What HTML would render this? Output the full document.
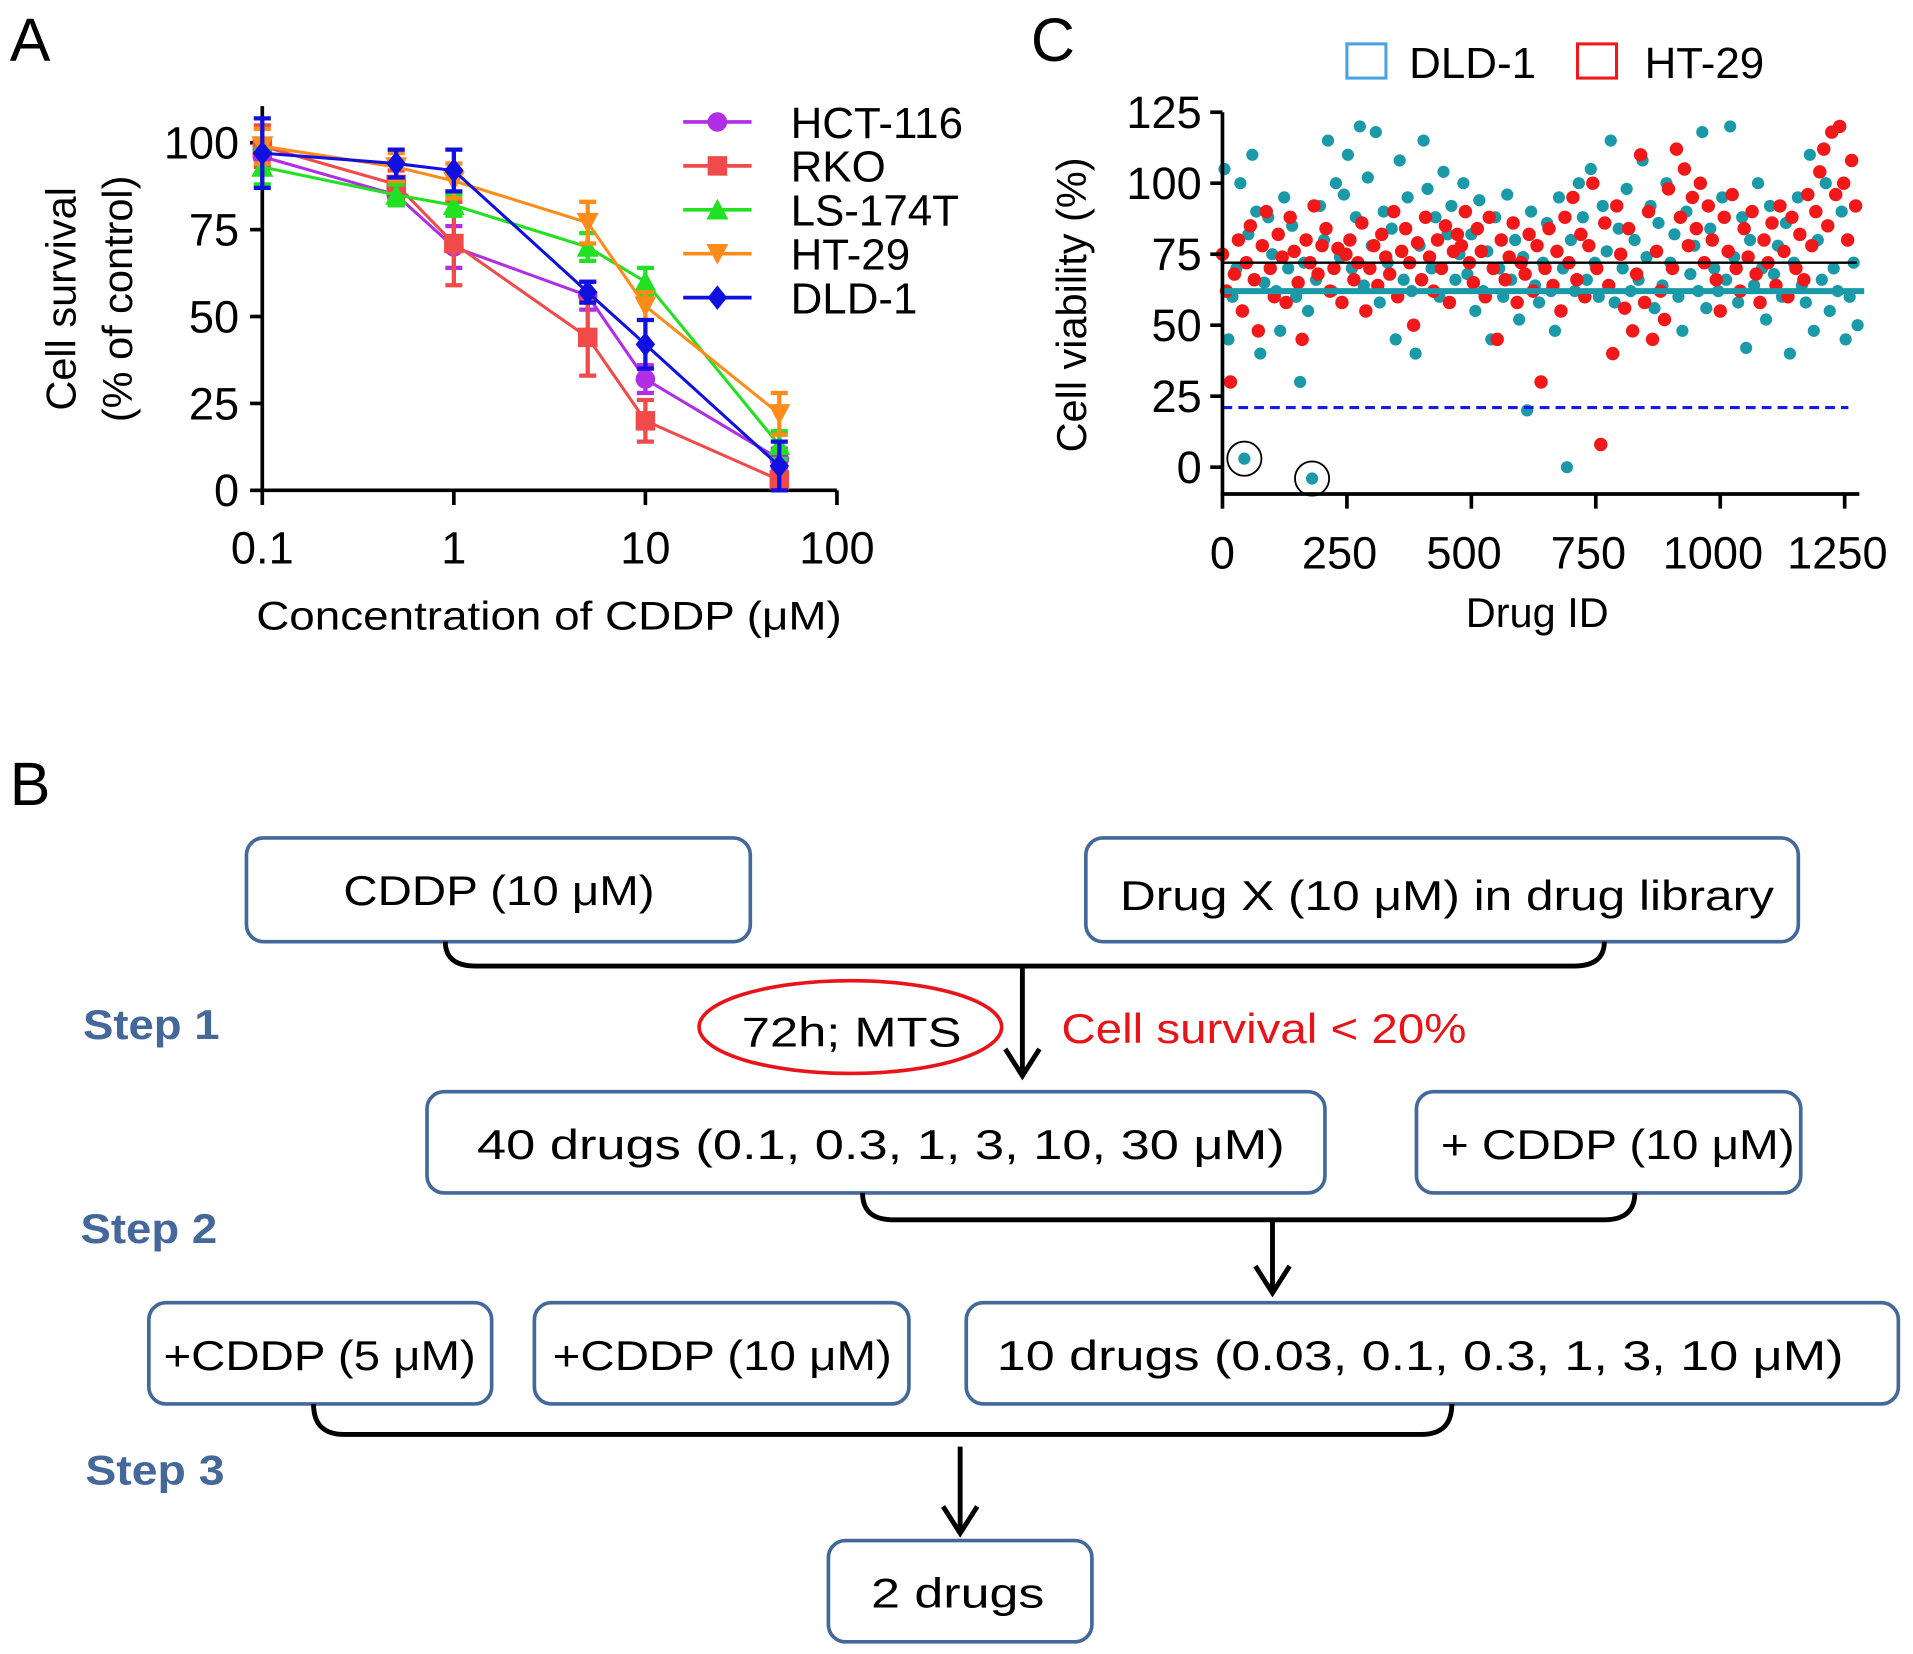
<!DOCTYPE html>
<html><head><meta charset="utf-8"><style>
html,body{margin:0;padding:0;background:#fff;}
svg{display:block;}
text{font-family:"Liberation Sans",sans-serif;}
</style></head><body>
<svg id="fig" width="1913" height="1654" viewBox="0 0 1568 1356" preserveAspectRatio="none" xmlns="http://www.w3.org/2000/svg">
<g id="panelA"></g>
<g id="panelC"></g>
<g id="panelB">
  <text x="8" y="660" font-size="50">B</text>
  <g fill="none" stroke="#44689a" stroke-width="3">
    <rect x="202" y="687" width="413" height="85" rx="14"/>
    <rect x="890" y="687" width="584" height="85" rx="14"/>
    <rect x="350" y="895" width="736" height="83" rx="14"/>
    <rect x="1161" y="895" width="315" height="83" rx="14"/>
    <rect x="122" y="1068" width="281" height="83" rx="14"/>
    <rect x="438" y="1068" width="307" height="83" rx="14"/>
    <rect x="792" y="1068" width="764" height="83" rx="14"/>
    <rect x="679" y="1263" width="216" height="83" rx="14"/>
  </g>
  <g fill="none" stroke="#000" stroke-width="4">
    <path d="M365 772 Q365 792 390 792 L1290 792 Q1315 792 1315 772"/>
    <path d="M838 792 L838 880 M824 860 L838 882 L852 860"/>
    <path d="M707 978 Q707 1000 732 1000 L1315 1000 Q1340 1000 1340 978"/>
    <path d="M1043 1000 L1043 1058 M1029 1038 L1043 1060 L1057 1038"/>
    <path d="M257 1151 Q257 1176 282 1176 L1165 1176 Q1190 1176 1190 1151"/>
    <path d="M787 1186 L787 1255 M773 1235 L787 1257 L801 1235"/>
  </g>
  <ellipse cx="697" cy="842" rx="124" ry="38" fill="none" stroke="#e8141a" stroke-width="3"/>
  <g font-size="34" fill="#000" text-anchor="middle">
    <text x="409" y="742" textLength="255" lengthAdjust="spacingAndGlyphs">CDDP (10 μM)</text>
    <text x="1186" y="746" textLength="536" lengthAdjust="spacingAndGlyphs">Drug X (10 μM) in drug library</text>
    <text x="698" y="858" textLength="180" lengthAdjust="spacingAndGlyphs">72h;  MTS</text>
    <text x="722" y="950" textLength="662" lengthAdjust="spacingAndGlyphs">40 drugs (0.1,  0.3, 1,  3,  10,  30 μM)</text>
    <text x="1326" y="950" textLength="290" lengthAdjust="spacingAndGlyphs">+ CDDP (10 μM)</text>
    <text x="262" y="1123" textLength="256" lengthAdjust="spacingAndGlyphs">+CDDP (5 μM)</text>
    <text x="592" y="1123" textLength="278" lengthAdjust="spacingAndGlyphs">+CDDP (10 μM)</text>
    <text x="1164" y="1123" textLength="694" lengthAdjust="spacingAndGlyphs">10 drugs (0.03,  0.1,  0.3, 1,  3,  10 μM)</text>
    <text x="785" y="1318" textLength="142" lengthAdjust="spacingAndGlyphs">2  drugs</text>
  </g>
  <text x="870" y="855" font-size="34" fill="#e8141a" textLength="332" lengthAdjust="spacingAndGlyphs">Cell survival &lt; 20%</text>
  <g font-size="34" font-weight="bold" fill="#44689a">
    <text x="68" y="852" textLength="112" lengthAdjust="spacingAndGlyphs">Step 1</text>
    <text x="66" y="1019" textLength="112" lengthAdjust="spacingAndGlyphs">Step 2</text>
    <text x="70" y="1217" textLength="114" lengthAdjust="spacingAndGlyphs">Step 3</text>
  </g>
</g>
</svg>
<script>
// ---------- Panel A data ----------
const concentrations = [0.1, 0.5, 1, 5, 10, 50];
const seriesNames = ["HCT-116", "RKO", "LS-174T", "HT-29", "DLD-1"];
const hct116 = [96, 85, 70, 56, 32, 9];
const rko = [99, 88, 71, 44, 20, 3];
const ls174t = [93, 85, 82, 70, 60, 13];
const ht29 = [99, 93, 89, 77, 53, 22];
const dld1 = [97, 94, 92, 57, 42, 7];
const errHct = [5, 3, 6, 4, 4, 3];
const errRko = [6, 4, 12, 11, 6, 2];
const errLs = [5, 3, 3, 4, 4, 4];
const errHt = [5, 4, 5, 6, 4, 6];
const errDld = [10, 4, 6, 3, 7, 7];
const yTicksA = [0, 25, 50, 75, 100];
const xTicksA = [0.1, 1, 10, 100];
const xTickLabelsA = ["0.1", "1", "10", "100"];

// ---------- Panel C data ----------
const drugStep = 8;
const ht29Viability = [75,62,30,68,80,55,72,85,66,48,78,90,70,60,82,74,58,88,76,65,45,80,72,92,68,78,84,62,70,77,
58,75,80,66,72,86,55,70,78,64,82,74,68,90,60,76,84,72,50,79,66,88,74,62,80,70,85,58,76,82,
78,90,72,65,84,76,60,88,70,45,80,66,74,86,58,72,68,82,62,78,30,70,84,64,76,55,88,72,95,66,
82,60,78,100,70,8,86,64,40,92,75,56,84,48,68,110,58,90,45,76,62,52,98,70,112,88,105,78,95,84,
100,72,92,80,66,55,88,76,96,70,62,84,74,90,68,58,80,72,86,64,92,76,60,88,70,82,66,96,78,90,104,112,85,118,96,120,100,80,108,92];
const dld1Viability = [105,45,60,70,100,3,82,110,90,40,65,88,75,62,48,95,70,85,60,30,72,55,-4,66,92,80,115,62,100,74,
96,110,70,88,120,64,102,78,118,58,90,72,84,45,108,66,95,62,40,78,115,98,70,88,60,104,82,92,66,75,
100,68,82,55,94,62,76,45,88,70,60,96,66,80,52,74,20,90,64,58,72,86,62,48,95,70,0,80,62,100,
88,66,105,72,60,92,76,115,58,84,70,98,62,80,66,108,74,92,56,86,64,100,72,82,60,48,90,68,78,62,
118,56,84,70,62,95,66,120,74,58,88,42,80,64,100,70,52,92,68,78,60,86,40,72,95,64,58,110,48,80,66,100,55,70,62,90,45,60,72,50];
const ht29Mean = 72;
const dld1Mean = 62;
const cutoff = 21;
const circledIdx = [5, 22];
const yTicksC = [0, 25, 50, 75, 100, 125];
const xTicksC = [0, 250, 500, 750, 1000, 1250];

const NS = "http://www.w3.org/2000/svg";
function mk(tag, attrs, parent) {
  const e = document.createElementNS(NS, tag);
  for (const k in attrs) e.setAttribute(k, attrs[k]);
  parent.appendChild(e);
  return e;
}

// ---------- Panel A ----------
const A = document.getElementById("panelA");
const ax = v => 215 + (Math.log10(v) + 1) * 157;
const ay = v => 402 - v * 2.85;
let t = mk("text", {x: 8, y: 50, "font-size": 50}, A); t.textContent = "A";


let l = mk("path", {d: `M215 ${87} L215 ${ay(0)} L686 ${ay(0)}`, stroke: "#000", "stroke-width": 3, fill: "none"}, A);


yTicksA.forEach(v => {
  mk("line", {x1: 205, x2: 215, y1: ay(v), y2: ay(v), stroke: "#000", "stroke-width": 3}, A);
  const tx = mk("text", {x: 196, y: ay(v) + 13, "font-size": 37, "text-anchor": "end"}, A);
  tx.textContent = v;
  
  
});
xTicksA.forEach((v, i) => {
  mk("line", {x1: ax(v), x2: ax(v), y1: ay(0), y2: ay(0) + 12, stroke: "#000", "stroke-width": 3}, A);
  const tx = mk("text", {x: ax(v), y: 462, "font-size": 37, "text-anchor": "middle"}, A);
  tx.textContent = xTickLabelsA[i];
  
  
});
t = mk("text", {x: 450, y: 516, "font-size": 33, "text-anchor": "middle", textLength: 480, lengthAdjust: "spacingAndGlyphs"}, A);
t.textContent = "Concentration of CDDP (μM)";


t = mk("text", {transform: "translate(62,245) rotate(-90)", "font-size": 34, "text-anchor": "middle"}, A);
t.textContent = "Cell survival";


t = mk("text", {transform: "translate(108,245) rotate(-90)", "font-size": 34, "text-anchor": "middle"}, A);
t.textContent = "(% of control)";



const seriesVals = [hct116, rko, ls174t, ht29, dld1];
const seriesErr = [errHct, errRko, errLs, errHt, errDld];
const colors = ["#b02ee6", "#f04a4a", "#22e022", "#ff8c1a", "#1010e0"];
const shapes = ["circle", "square", "tri", "tridown", "diamond"];
function marker(shape, x, y, c, p) {
  const s = 8;
  if (shape === "circle") return mk("circle", {cx: x, cy: y, r: s, fill: c}, p);
  if (shape === "square") return mk("rect", {x: x - s, y: y - s, width: 2 * s, height: 2 * s, fill: c}, p);
  if (shape === "tri") return mk("path", {d: `M${x} ${y - s - 1} L${x + s + 1} ${y + s} L${x - s - 1} ${y + s}Z`, fill: c}, p);
  if (shape === "tridown") return mk("path", {d: `M${x} ${y + s + 1} L${x + s + 1} ${y - s} L${x - s - 1} ${y - s}Z`, fill: c}, p);
  return mk("path", {d: `M${x} ${y - s - 2} L${x + s} ${y} L${x} ${y + s + 2} L${x - s} ${y}Z`, fill: c}, p);
}
seriesVals.forEach((vals, si) => {
  const g = mk("g", {}, A);
  
  
  const c = colors[si];
  const pts = vals.map((v, i) => `${ax(concentrations[i])},${ay(v)}`).join(" ");
  mk("polyline", {points: pts, fill: "none", stroke: c, "stroke-width": 2.5}, g);
  vals.forEach((v, i) => {
    const x = ax(concentrations[i]), e = seriesErr[si][i];
    mk("path", {d: `M${x} ${ay(v - e)} L${x} ${ay(v + e)} M${x - 7} ${ay(v - e)} L${x + 7} ${ay(v - e)} M${x - 7} ${ay(v + e)} L${x + 7} ${ay(v + e)}`, stroke: c, "stroke-width": 3.5, fill: "none"}, g);
    const m = marker(shapes[si], x, ay(v), c, g);
    
    
  });
  const ly = 100 + si * 36;
  const lg = mk("g", {}, A);
  
  
  mk("line", {x1: 560, x2: 616, y1: ly, y2: ly, stroke: c, "stroke-width": 3}, lg);
  marker(shapes[si], 588, ly, c, lg);
  const lt = mk("text", {x: 648, y: ly + 13, "font-size": 36}, lg);
  lt.textContent = seriesNames[si];
});

// ---------- Panel C ----------
const C = document.getElementById("panelC");
const cx = v => 1002 + v * 0.408;
const cy = v => 383 - v * 2.328;
t = mk("text", {x: 845, y: 50, "font-size": 50}, C); t.textContent = "C";


const gT = mk("g", {fill: "#1a9aa8"}, C);


const gR = mk("g", {fill: "#f01818"}, C);


dld1Viability.forEach((v, i) => {
  mk("circle", {cx: cx(i * drugStep + 4), cy: cy(v), r: 5}, gT);
});
ht29Viability.forEach((v, i) => {
  mk("circle", {cx: cx(i * drugStep), cy: cy(v), r: 5.5}, gR);
});
l = mk("line", {x1: cx(0), x2: 1522, y1: cy(ht29Mean), y2: cy(ht29Mean), stroke: "#000", "stroke-width": 2}, C);


l = mk("line", {x1: cx(0), x2: 1528, y1: cy(dld1Mean), y2: cy(dld1Mean), stroke: "#1a9aa8", "stroke-width": 5}, C);


l = mk("line", {x1: cx(0), x2: 1515, y1: cy(cutoff), y2: cy(cutoff), stroke: "#1a1ae8", "stroke-width": 2.5, "stroke-dasharray": "8,5"}, C);


circledIdx.forEach(i => {
  const c = mk("circle", {cx: cx(i * drugStep + 4), cy: cy(dld1Viability[i]), r: 14, fill: "none", stroke: "#000", "stroke-width": 1.5}, C);
  
  
});
l = mk("path", {d: `M1002 ${cy(125)} L1002 405 L1524 405`, stroke: "#000", "stroke-width": 3, fill: "none"}, C);


yTicksC.forEach(v => {
  mk("line", {x1: 992, x2: 1002, y1: cy(v), y2: cy(v), stroke: "#000", "stroke-width": 3}, C);
  const tx = mk("text", {x: 985, y: cy(v) + 13, "font-size": 37, "text-anchor": "end"}, C);
  tx.textContent = v;
  
  
});
xTicksC.forEach(v => {
  mk("line", {x1: cx(v), x2: cx(v), y1: 405, y2: 417, stroke: "#000", "stroke-width": 3}, C);
  const tx = mk("text", {x: v === 0 ? cx(v) : cx(v) - 6, y: 466, "font-size": 37, "text-anchor": "middle"}, C);
  tx.textContent = v;
  
  
});
t = mk("text", {x: 1260, y: 514, "font-size": 34, "text-anchor": "middle"}, C);
t.textContent = "Drug ID";


t = mk("text", {transform: "translate(890,250) rotate(-90)", "font-size": 34, "text-anchor": "middle"}, C);
t.textContent = "Cell viability (%)";


[["DLD-1", "#4aa3e0", 1104, 1155], ["HT-29", "#f01818", 1293, 1348]].forEach(d => {
  const g = mk("g", {}, C);
  
  
  mk("rect", {x: d[2], y: 36, width: 32, height: 28, fill: "none", stroke: d[1], "stroke-width": 2.5}, g);
  const tx = mk("text", {x: d[3], y: 64, "font-size": 36}, g);
  tx.textContent = d[0];
});
</script>
</body></html>
